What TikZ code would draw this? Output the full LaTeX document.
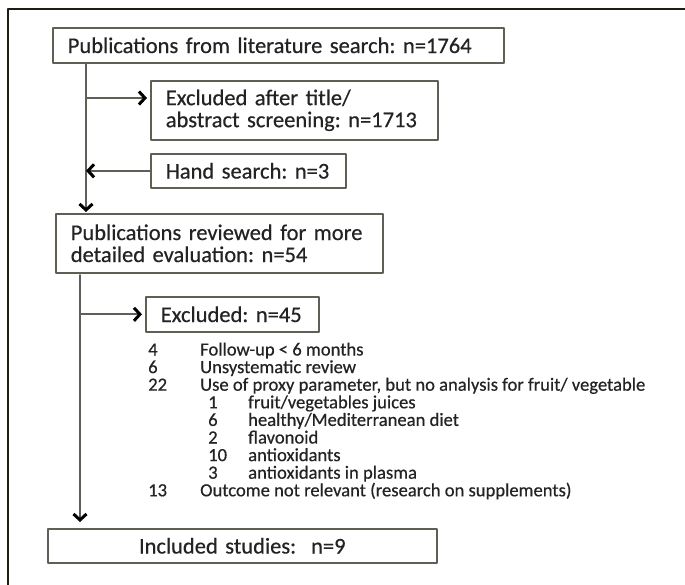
\documentclass[tikz,border=0pt]{standalone}
\usepackage{fontspec}
\setmainfont{Carlito}
\newfontfamily\flowfont{Carlito}[FakeBold=0.5]
\usetikzlibrary{arrows.meta}
\definecolor{boxgray}{RGB}{95,95,85}
\definecolor{framegray}{RGB}{30,28,20}
\definecolor{textgray}{RGB}{35,35,35}
\frenchspacing

\begin{document}
\begin{tikzpicture}[x=1pt,y=-1pt,line cap=round,line join=round,
  box/.style={draw=boxgray,line width=1.6pt,inner xsep=15pt,inner ysep=4pt,
    align=left,anchor=north west,text=textgray,font=\flowfont\fontsize{22.5}{22}\selectfont},
  flow/.style={line width=1.8pt,draw=boxgray,
    -{Straight Barb[length=6pt,width=13pt,line width=3pt,black]}},
  item/.style={anchor=base west,inner sep=0pt,text=textgray,font=\flowfont\fontsize{18.6}{18}\selectfont}]
\useasboundingbox (0,0) rectangle (685,585);
% outer frame
\draw [line width=1.8pt,framegray] (8,585) -- (8,9) -- (685,9);
% boxes
\node (pub) [box,text width=421pt,minimum height=35pt] at (52,27)
  {Publications from literature search: n=1764};
\node (excl) [box,text width=257pt,minimum height=59pt] at (150,80)
  {Excluded after title/\\abstract screening: n=1713};
\node (hand) [box,text width=165pt,minimum height=34pt] at (150,153)
  {Hand search: n=3};
\node (rev) [box,text width=297pt,minimum height=59pt] at (55,213)
  {Publications reviewed for more\\detailed evaluation: n=54};
\node (excl2) [box,text width=143pt,minimum height=35pt] at (145,296)
  {Excluded: n=45};
\node (incl) [box,align=center,text width=359pt,minimum height=34pt] at (47,528)
  {Included studies:\ \ n=9};
% reasons for exclusion
\node (n1) [item] at (148,355.5) {4};
\node (t1) [item] at (200,355.5) {Follow-up < 6 months};
\node (n2) [item] at (148,373.1) {6};
\node (t2) [item] at (200,373.1) {Unsystematic review};
\node (n3) [item] at (148,390.7) {22};
\node (t3) [item] at (200,390.7) {Use of proxy parameter, but no analysis for fruit/ vegetable};
\node (n4) [item] at (208,408.3) {1};
\node (t4) [item] at (248,408.3) {fruit/vegetables juices};
\node (n5) [item] at (208,425.9) {6};
\node (t5) [item] at (248,425.9) {healthy/Mediterranean diet};
\node (n6) [item] at (208,443.5) {2};
\node (t6) [item] at (248,443.5) {flavonoid};
\node (n7) [item] at (208,461.1) {10};
\node (t7) [item] at (248,461.1) {antioxidants};
\node (n8) [item] at (208,478.7) {3};
\node (t8) [item] at (248,478.7) {antioxidants in plasma};
\node (n9) [item] at (148,496.3) {13};
\node (t9) [item] at (200,496.3) {Outcome not relevant (research on supplements)};
% connectors
\coordinate (top1) at (86,63);
\coordinate (j1) at (86,98);
\coordinate (top2) at (80,275);
\draw [flow] (top1) -- ([yshift=1pt]top1 |- rev.north);
\draw [flow] (j1) -- ([xshift=-3pt]j1 -| excl.west);
\draw [flow] (hand.west) -- (hand.west -| top1);
\draw [flow] (top2) -- ([yshift=6pt]top2 |- incl.north);
\draw [flow] (excl2.west -| top2) -- ([xshift=-3pt]excl2.west);
\end{tikzpicture}
\end{document}
